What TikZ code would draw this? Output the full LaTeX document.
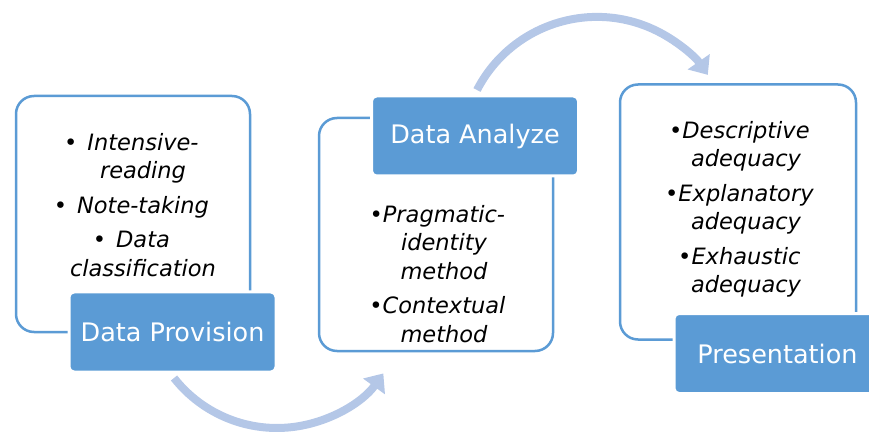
\documentclass[tikz,border=0pt]{standalone}
\usepackage{fontspec}
\setmainfont{DejaVu Sans}
\usetikzlibrary{arrows.meta}
\definecolor{boxblue}{HTML}{5B9BD5}
\definecolor{arcblue}{HTML}{B4C7E7}
\newcommand{\bul}{\makebox[0pt][r]{\upshape •}}
\newcommand{\bulsp}{\makebox[0pt][r]{\upshape •\hspace{10pt}}}
\begin{document}
\begin{tikzpicture}[x=1pt, y=-1pt,
  frame/.style={draw=boxblue, line width=2.5pt, rounded corners=18pt, fill=white, minimum width=234pt},
  title/.style={fill=boxblue, draw=white, line width=3pt, rounded corners=5pt, text=white, inner sep=0pt,
    minimum width=207pt, minimum height=80pt, font=\fontsize{25.5}{30}\selectfont},
  items/.style={align=center, anchor=north, inner sep=0pt, font=\fontsize{22.5}{28.5}\selectfont\itshape},
  flow/.style={-{Triangle[length=16pt,width=26pt]}, draw=arcblue, line width=8pt}]
        \clip (0,0) rectangle (869,435);

          \node[frame, minimum height=236pt] (f1) at (133,214) {};
          \node[frame, minimum height=233pt] (f2) at (436,234.5) {};
          \node[frame, minimum height=255pt, minimum width=236pt] (f3) at (738,212) {};

          \node[items] (i1) at (143,133) {\bulsp Intensive-\\reading\\[6pt]
            \bulsp Note-taking\\[6pt]\bulsp Data\\classification};
          \node[items] (i2) at (444,205) {\bul Pragmatic-\\identity\\method\\[6pt]
            \bul Contextual\\method};
          \node[items] (i3) at (746,121) {\bul Descriptive\\adequacy\\[6pt]
            \bul Explanatory\\adequacy\\[6pt]\bul Exhaustic\\adequacy};

          \node[title] (t1) at (172.5,332) {Data Provision};
          \node[title] (t2) at (475,136) {Data Analyze};
          \node[title] (t3) at (777.5,353.5) {Presentation};

          \coordinate (s1) at (174,378);
          \coordinate (s2) at (477,90);
          \draw[flow] (s1) arc[start angle=141.8, end angle=35.7, radius=131];
          \draw[flow] (s2) arc[start angle=-152.7, end angle=-34.8, radius=135];

\end{tikzpicture}
\end{document}
